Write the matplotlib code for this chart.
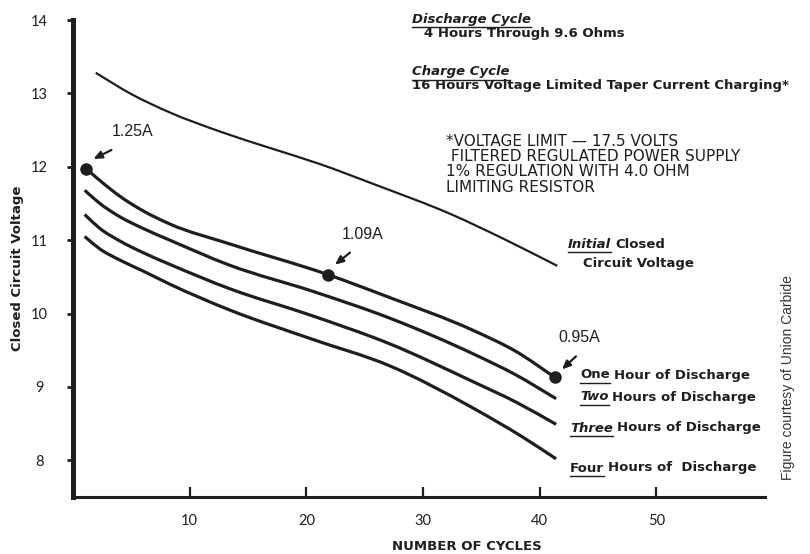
import matplotlib
matplotlib.use('Agg')
import numpy as np
import matplotlib.pyplot as plt
from matplotlib.lines import Line2D
from matplotlib.path import Path
from matplotlib.patches import PathPatch
from matplotlib.transforms import offset_copy

# data
init_c = [1.95, 5.0, 8.3, 12.6, 17.0, 21.1, 26.0, 32.3, 37.0, 41.5]
init_v = [13.28, 12.99, 12.74, 12.48, 12.25, 12.04, 11.75, 11.36, 11.01, 10.65]

one_c = [1.15, 2.4, 4.0, 6.0, 8.3, 13.4, 21.85, 27.1, 34.3, 38.0, 41.3]
one_v = [11.97, 11.80, 11.60, 11.40, 11.22, 10.95, 10.53, 10.22, 9.77, 9.48, 9.13]

two_c = [1.0, 2.3, 4.0, 6.0, 8.3, 13.4, 20.6, 27.1, 34.3, 38.0, 41.4]
two_v = [11.68, 11.50, 11.32, 11.16, 11.00, 10.66, 10.30, 9.94, 9.45, 9.16, 8.84]

three_c = [1.0, 2.3, 4.0, 6.0, 8.3, 13.4, 20.5, 27.1, 34.3, 38.0, 41.4]
three_v = [11.35, 11.16, 10.99, 10.83, 10.67, 10.34, 9.97, 9.59, 9.07, 8.79, 8.49]

four_c = [1.0, 2.3, 4.0, 6.0, 8.3, 13.4, 20.5, 27.1, 34.3, 38.5, 41.4]
four_v = [11.05, 10.88, 10.73, 10.58, 10.40, 10.05, 9.65, 9.29, 8.71, 8.32, 8.02]

# current markers
amp_c = [1.15, 21.85, 41.3]
amp_v = [11.97, 10.53, 9.13]
amp_lbl = ['1.25A', '1.09A', '0.95A']

xticks = [10, 20, 30, 40, 50]
yticks = [8, 9, 10, 11, 12, 13, 14]

W, H = 810, 554
ink = '#1e1e1e'
bold_font = 'DejaVu Sans'
tick_font = 'Lato'
plain_font = 'Liberation Sans'

fig = plt.figure(figsize=(W/100, H/100), dpi=100)
ax = fig.add_axes([73/W, 1-497/H, (765-73)/W, (497-20)/H])

def fx(px):
    return px / W

def fy(py):
    return 1 - py / H

def smooth_path(xs, ys):
    # cubic hermite through the read points, as bezier segments
    x = np.asarray(xs, float)
    y = np.asarray(ys, float)
    h = np.diff(x)
    d = np.diff(y) / h
    m = np.empty_like(x)
    m[0], m[-1] = d[0], d[-1]
    m[1:-1] = (d[:-1] * h[1:] + d[1:] * h[:-1]) / (h[:-1] + h[1:])
    verts = [(x[0], y[0])]
    codes = [Path.MOVETO]
    for i in range(len(x) - 1):
        verts += [(x[i] + h[i] / 3, y[i] + m[i] * h[i] / 3),
                  (x[i+1] - h[i] / 3, y[i+1] - m[i+1] * h[i] / 3),
                  (x[i+1], y[i+1])]
        codes += [Path.CURVE4] * 3
    return Path(verts, codes)

for c, v in [(one_c, one_v), (two_c, two_v), (three_c, three_v), (four_c, four_v)]:
    ax.add_patch(PathPatch(smooth_path(c, v), fill=False, edgecolor=ink, lw=2.3,
                           capstyle='butt', joinstyle='round'))
ax.add_patch(PathPatch(smooth_path(init_c, init_v), fill=False, edgecolor=ink, lw=1.6,
                       capstyle='butt'))
ax.plot(amp_c, amp_v, 'o', color=ink, ms=8)

ax.set_xlim(0, 59.3)
ax.set_ylim(7.5, 14)
ax.set_xticks(xticks)
ax.set_yticks(yticks)
for s in ['top', 'right']:
    ax.spines[s].set_visible(False)
ax.spines['left'].set_linewidth(3.6)
ax.spines['bottom'].set_linewidth(2.2)
ax.spines['left'].set_color(ink)
ax.spines['bottom'].set_color(ink)
ax.tick_params(axis='x', direction='in', length=7, width=1.6, color=ink, pad=12,
               labelsize=10.5, labelcolor=ink)
ax.tick_params(axis='y', direction='out', length=4, width=2, color=ink, pad=20,
               labelsize=10.5, labelcolor=ink)
for lab in ax.get_xticklabels() + ax.get_yticklabels():
    lab.set_fontfamily(tick_font)
for lab in ax.get_yticklabels():
    lab.set_horizontalalignment('center')

# current annotations: label above, short arrow pointing at the dot (offsets in px)
txt_off = [(46, 37), (35, 40), (24, 40)]
tail_off = [(25, 19), (22, 22), (21, 21)]
head_off = [(7, 10), (7, 10), (7, 8)]
for c, v, t, to, ta, hd in zip(amp_c, amp_v, amp_lbl, txt_off, tail_off, head_off):
    ax.text(c, v, t, transform=offset_copy(ax.transData, fig=fig, x=to[0], y=to[1], units='dots'),
            ha='center', va='center', fontsize=11.5, family=plain_font, color=ink)
    ax.annotate('', xy=(c, v), xycoords=offset_copy(ax.transData, fig=fig, x=hd[0], y=hd[1], units='dots'),
                xytext=(c, v), textcoords=offset_copy(ax.transData, fig=fig, x=ta[0], y=ta[1], units='dots'),
                arrowprops=dict(arrowstyle='-|>,head_width=0.22,head_length=0.5',
                                color=ink, lw=1.6, shrinkA=0, shrinkB=0))

fig.text(fx(18), fy(268), 'Closed Circuit Voltage', rotation=90, ha='center', va='center',
         fontsize=9.5, weight='bold', family=bold_font, color=ink)
fig.text(fx(467), fy(547), 'NUMBER OF CYCLES', ha='center', va='center',
         fontsize=9.5, weight='bold', family=bold_font, color=ink)
fig.text(fx(788), fy(378), 'Figure courtesy of Union Carbide', rotation=90,
         ha='center', va='center', fontsize=10, family=plain_font, color='#333333')

renderer = fig.canvas.get_renderer()

def uline(x, y, first, rest, style='normal', size=9.5, gap=4):
    t = fig.text(fx(x), fy(y), first, ha='left', va='center', fontsize=size,
                 weight='bold', style=style, family=bold_font, color=ink)
    bb = t.get_window_extent(renderer)
    yl = bb.y0 - 1.5
    fig.add_artist(Line2D([bb.x0 / W, bb.x1 / W], [yl / H, yl / H], color=ink, lw=1.0))
    if rest:
        fig.text((bb.x1 + gap) / W, fy(y), rest, ha='left', va='center', fontsize=size,
                 weight='bold', family=bold_font, color=ink)

uline(412, 19, 'Discharge Cycle', '', style='italic')
fig.text(fx(424), fy(33), '4 Hours Through 9.6 Ohms', ha='left', va='center',
         fontsize=9.5, weight='bold', family=bold_font, color=ink)
uline(412, 72, 'Charge Cycle', '', style='italic')
fig.text(fx(412), fy(86), '16 Hours Voltage Limited Taper Current Charging*', ha='left',
         va='center', fontsize=9.5, weight='bold', family=bold_font, color=ink)

note = ['*VOLTAGE LIMIT \u2014 17.5 VOLTS', ' FILTERED REGULATED POWER SUPPLY',
        '1% REGULATION WITH 4.0 OHM', 'LIMITING RESISTOR']
for i, line in enumerate(note):
    fig.text(fx(446), fy(141 + i * 15.5), line, ha='left', va='center',
             fontsize=11, family='DejaVu Sans', color=ink)

uline(568, 244, 'Initial', 'Closed', style='italic')
fig.text(fx(583), fy(263), 'Circuit Voltage', ha='left', va='center',
         fontsize=9.5, weight='bold', family=bold_font, color=ink)
uline(580, 375, 'One', 'Hour of Discharge')
uline(580, 397, 'Two', 'Hours of Discharge', style='italic')
uline(570, 428, 'Three', 'Hours of Discharge', style='italic')
uline(570, 468, 'Four', 'Hours of  Discharge')

fig.savefig('out.png', dpi=100)
